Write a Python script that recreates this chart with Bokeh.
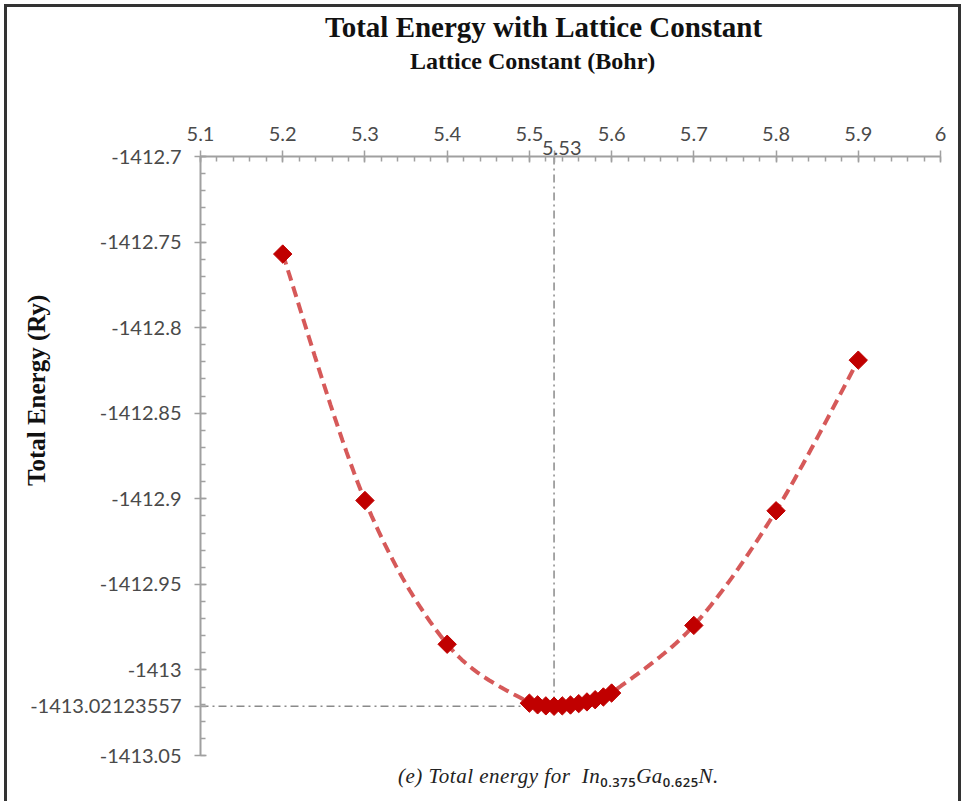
import numpy as np
from bokeh.plotting import figure
from bokeh.models import FixedTicker, Range1d, Div, LinearAxis
from bokeh.layouts import column
from bokeh.embed import file_html
from bokeh.resources import INLINE

# ---------------- data ----------------
lattice = [5.2, 5.3, 5.4, 5.50, 5.51, 5.52, 5.53, 5.54, 5.55, 5.56, 5.57, 5.58,
           5.59, 5.60, 5.7, 5.8, 5.9]
energy = [-1412.757, -1412.901, -1412.985, -1413.0194, -1413.0204, -1413.0210,
          -1413.02123557, -1413.0210, -1413.0205, -1413.0197, -1413.0187,
          -1413.0174, -1413.0158, -1413.0135, -1412.974, -1412.907, -1412.819]

a_min = 5.53
e_min = -1413.02123557

x_ticks = [5.1, 5.2, 5.3, 5.4, 5.5, 5.6, 5.7, 5.8, 5.9, 6.0]
x_tick_labels = ["5.1", "5.2", "5.3", "5.4", "5.5", "5.6", "5.7", "5.8", "5.9", "6"]
a_min_label = "5.53"
y_ticks = [-1412.7, -1412.75, -1412.8, -1412.85, -1412.9, -1412.95, -1413.0,
           -1413.02123557, -1413.05]
y_tick_labels = ["-1412.7", "-1412.75", "-1412.8", "-1412.85", "-1412.9",
                 "-1412.95", "-1413", "-1413.02123557", "-1413.05"]

title_text = "Total Energy with Lattice Constant"
x_label = "Lattice Constant (Bohr)"
y_label = "Total Energy (Ry)"
caption_html = "(e) Total energy for&nbsp; In<sub>0.375</sub>Ga<sub>0.625</sub>N."

X0, X1 = 5.1, 6.0
Y0, Y1 = -1413.05, -1412.7


def catmull_rom(xs, ys, n=24):
    P = np.column_stack([xs, ys])
    P = np.vstack([P[0], P, P[-1]])
    out = []
    t = np.linspace(0, 1, n, endpoint=False)[:, None]
    for i in range(1, len(P) - 2):
        p0, p1, p2, p3 = P[i - 1], P[i], P[i + 1], P[i + 2]
        seg = 0.5 * ((2 * p1) + (-p0 + p2) * t + (2 * p0 - 5 * p1 + 4 * p2 - p3) * t ** 2
                     + (-p0 + 3 * p1 - 3 * p2 + p3) * t ** 3)
        out.append(seg)
    out.append(P[-2][None, :])
    return np.vstack(out)


W = 951
p = figure(width=W, height=680, x_range=Range1d(X0, X1), y_range=Range1d(Y0, Y1),
           x_axis_location="above", output_backend="svg", toolbar_location=None,
           title_location=None,
           min_border_left=193, min_border_right=18, min_border_top=71,
           min_border_bottom=10)
p.outline_line_color = None
p.xgrid.visible = False
p.ygrid.visible = False
p.background_fill_color = "white"
p.border_fill_color = "white"

x_minor = [round(X0 + 0.02 * i, 4) for i in range(46)]
y_minor = [round(Y1 - 0.01 * i, 4) for i in range(36)]

xa = p.xaxis[0]
xa.ticker = FixedTicker(ticks=x_ticks + [a_min], minor_ticks=x_minor)
xa.major_label_overrides = dict(zip(x_ticks + [a_min], x_tick_labels + [""]))
ya = p.yaxis[0]
ya.ticker = FixedTicker(ticks=y_ticks, minor_ticks=y_minor)
ya.major_label_overrides = dict(zip(y_ticks, y_tick_labels))

for ax in (xa, ya):
    ax.axis_line_color = "#a0a0a0"
    ax.axis_line_width = 2
    ax.major_tick_line_color = "#a0a0a0"
    ax.minor_tick_line_color = "#a0a0a0"
    ax.major_tick_line_width = 1.5
    ax.minor_tick_line_width = 1.5
    ax.major_tick_in = 6
    ax.major_tick_out = 6
    ax.minor_tick_in = 5
    ax.minor_tick_out = 0
    ax.major_label_text_font = "Lato"
    ax.major_label_text_font_size = "20px"
    ax.major_label_text_color = "#4a4a4a"
xa.major_label_standoff = 10
ya.major_label_standoff = 13

# the minimum's label sits lower than the other x labels, as in the reference
min_axis = LinearAxis(ticker=FixedTicker(ticks=[a_min]),
                      major_label_overrides={a_min: "\u00a0\u00a0\u00a0" + a_min_label},
                      axis_line_color=None, major_tick_line_color=None,
                      minor_tick_line_color=None, major_tick_in=0, major_tick_out=0,
                      minor_tick_in=0, minor_tick_out=0, major_label_standoff=-35,
                      major_label_text_font="Lato", major_label_text_font_size="20px",
                      major_label_text_color="#4a4a4a")
p.add_layout(min_axis, "above")

# leading no-break spaces lift the rotated title to where the reference has it
ya.axis_label = "\u00a0" * 21 + y_label
ya.axis_label_standoff = -23
ya.axis_label_text_font = "Liberation Serif"
ya.axis_label_text_font_style = "bold"
ya.axis_label_text_font_size = "25px"
ya.axis_label_text_color = "#111111"

# reference dash-dot lines
p.segment(x0=[a_min, X0], y0=[Y1, e_min], x1=[a_min, a_min], y1=[e_min, e_min],
          line_color="#8a8a8a", line_width=1.5, line_dash="8 4 2 4")

# smoothed dashed curve
curve = catmull_rom(lattice, energy)
p.line(curve[:, 0], curve[:, 1], line_color="#C00000", line_alpha=0.65,
       line_width=4, line_dash="11 6")

# markers
p.scatter(lattice, energy, marker="square", angle=np.pi / 4, size=13,
          fill_color="#C00000", line_color="#C00000")

serif_bold = ("font-family:'Liberation Serif';font-weight:bold;color:#111;"
              "white-space:nowrap;line-height:1.15;")
title_div = Div(text=('<div style="%sfont-size:29px;padding-left:318px;margin-top:4px">'
                      % serif_bold) + title_text + '</div>',
                width=W, height=38, margin=(0, 0, 0, 0))
xlabel_div = Div(text=('<div style="%sfont-size:24px;padding-left:403px;margin-top:3px">'
                       % serif_bold) + x_label + '</div>',
                 width=W, height=40, margin=(0, 0, 0, 0))

sub_style = ("font-family:'Open Sans';font-style:normal;font-weight:600;"
             "font-size:13px;vertical-align:-4px;line-height:0")
cap = Div(text=('<div style="font-family:\'Liberation Serif\';font-style:italic;'
                'font-size:21px;color:#222;padding-left:391px;margin-top:-4px;'
                'white-space:nowrap;letter-spacing:0.5px">'
                + caption_html.replace("<sub>", '<sub style="%s">' % sub_style)
                + '</div>'),
          width=W, height=36, margin=(0, 0, 0, 0))

layout = column(title_div, xlabel_div, p, cap, spacing=0)
layout.styles = {"margin-left": "4px", "margin-top": "4px",
                 "border-left": "3px solid #333333", "border-top": "3px solid #333333",
                 "border-right": "3px solid #333333", "background": "white"}

open("out.html", "w").write(file_html(layout, INLINE))
